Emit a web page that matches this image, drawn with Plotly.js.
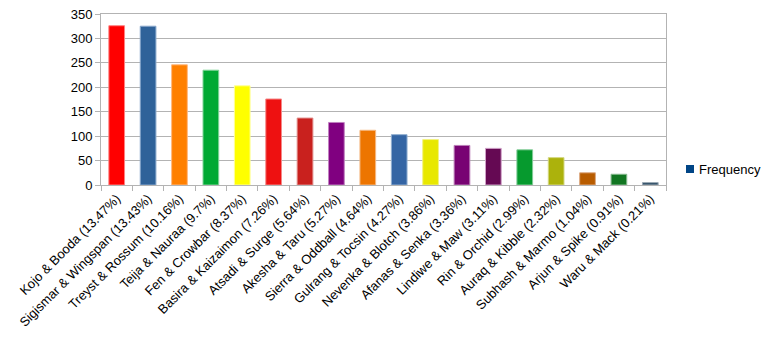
<!DOCTYPE html>
<html>
<head>
<meta charset="utf-8">
<script src="https://cdn.plot.ly/plotly-3.0.1.min.js"></script>
<style>html,body{margin:0;padding:0;background:#fff;}#chart{width:772px;height:340px;}</style>
</head>
<body>
<div id="chart"></div>
<script>
const categories = [
  "Kojo & Booda (13.47%)", "Sigismar & Wingspan (13.43%)", "Treyst & Rossum (10.16%)",
  "Teija & Nauraa (9.7%)", "Fen & Crowbar (8.37%)", "Basira & Kaizaimon (7.26%)",
  "Atsadi & Surge (5.64%)", "Akesha & Taru (5.27%)", "Sierra & Oddball (4.64%)",
  "Gulrang & Tocsin (4.27%)", "Nevenka & Blotch (3.86%)", "Afanas & Senka (3.36%)",
  "Lindiwe & Maw (3.11%)", "Rin & Orchid (2.99%)", "Auraq & Kibble (2.32%)",
  "Subhash & Marmo (1.04%)", "Arjun & Spike (0.91%)", "Waru & Mack (0.21%)"
];
const frequency = [326, 325, 246, 235, 203, 176, 137, 128, 112, 103, 93, 81, 75, 72, 56, 25, 22, 5];
const barColors = [
  "#ff0000", "#2f6299", "#ff8000", "#00a933", "#ffff00", "#ee1111",
  "#c9211e", "#800080", "#ed7500", "#3465a4", "#e8e800", "#780373",
  "#650953", "#069a2e", "#acb20c", "#b85c00", "#127622", "#355269"
];
const borderColors = [
  "#ff8080", "#8aa8cc", "#ffb880", "#80d499", "#ffff99", "#f58888",
  "#e08a88", "#c080c0", "#f5b880", "#90aed0", "#f2f280", "#bb80b8",
  "#d0a0c8", "#80cc96", "#d4d880", "#dca880", "#88bb90", "#9aa8b4"
];
const yTicks = [0, 50, 100, 150, 200, 250, 300, 350];
const seriesName = "Frequency";
const legendColor = "#004586";

const font = "Liberation Sans, Arial, sans-serif";

const traces = [
  {
    type: "bar",
    name: seriesName,
    x: categories,
    y: frequency,
    marker: {color: barColors, line: {color: borderColors, width: 1}},
    width: 0.5,
    showlegend: false,
    hoverinfo: "x+y"
  }
];

const layout = {
  width: 772,
  height: 340,
  margin: {l: 101, r: 106, t: 14, b: 155, pad: 0},
  paper_bgcolor: "#ffffff",
  plot_bgcolor: "#ffffff",
  font: {family: font, size: 13, color: "#000000"},
  showlegend: false,
  bargap: 0.5,
  xaxis: {
    type: "category",
    tickangle: -45,
    tickson: "boundaries",
    ticks: "outside",
    ticklen: 5,
    tickcolor: "#b3b3b3",
    showline: true,
    linecolor: "#b3b3b3",
    linewidth: 1,
    mirror: true,
    showgrid: false,
    tickfont: {family: font, size: 13, color: "#000"},
    automargin: false
  },
  yaxis: {
    range: [0, 350],
    tickvals: yTicks,
    ticktext: yTicks.map(String),
    ticks: "outside",
    ticklen: 5,
    tickcolor: "#b3b3b3",
    showgrid: true,
    gridcolor: "#b3b3b3",
    gridwidth: 1,
    zeroline: false,
    showline: true,
    linecolor: "#b3b3b3",
    mirror: true,
    tickfont: {family: font, size: 13, color: "#000"},
    automargin: false
  },
  shapes: [
    {type: "rect", xref: "paper", yref: "paper",
     x0: (686 - 101) / 565, x1: (694 - 101) / 565,
     y0: (185 - 173) / 171, y1: (185 - 165) / 171,
     fillcolor: legendColor, line: {width: 0}}
  ],
  annotations: [
    {xref: "paper", yref: "paper", x: (697 - 101) / 565, y: (185 - 169) / 171,
     xanchor: "left", yanchor: "middle", showarrow: false, text: seriesName,
     font: {family: font, size: 13, color: "#000"}}
  ]
};

Plotly.newPlot("chart", traces, layout, {displayModeBar: false, staticPlot: true});
</script>
</body>
</html>
